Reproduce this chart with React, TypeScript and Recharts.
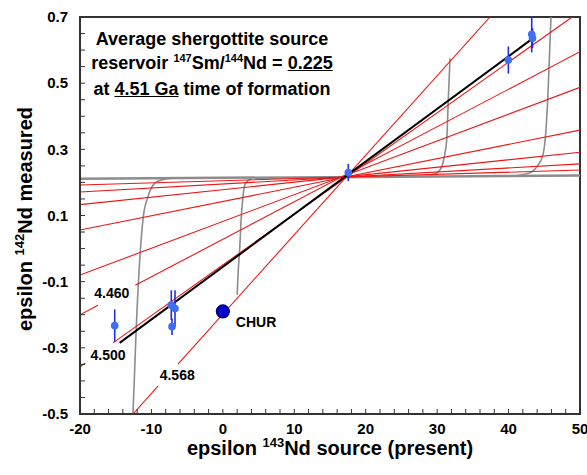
import React from "react";
import {
  ComposedChart,
  Line,
  Scatter,
  XAxis,
  YAxis,
  ErrorBar,
  ReferenceArea,
} from "recharts";

const FONT = '"Liberation Sans", Arial, Helvetica, sans-serif';

// axis ticks
const xTickLabels = [-20, -10, 0, 10, 20, 30, 40, 50];
const yTickLabels = [-0.5, -0.3, -0.1, 0.1, 0.3, 0.5, 0.7];
const xTicks = Array.from({ length: 36 }, (_, i) => -20 + 2 * i);
const yTicks = Array.from({ length: 25 }, (_, i) => Math.round((-0.5 + 0.05 * i) * 100) / 100);

// red isochrons (epsilon143Nd source, epsilon142Nd)
const isoA = [{ x: -20, y: 0.192 }, { x: 50, y: 0.2375 }];
const isoB = [{ x: -20, y: 0.171 }, { x: 50, y: 0.256 }];
const isoC = [{ x: -20, y: 0.133 }, { x: 50, y: 0.291 }];
const isoD = [{ x: -20, y: 0.056 }, { x: 50, y: 0.358 }];
const isoE = [{ x: -20, y: -0.08 }, { x: 50, y: 0.4875 }];
const iso4460a = [{ x: -20, y: -0.2 }, { x: -17.48, y: -0.171 }];
const iso4460b = [{ x: -12.26, y: -0.111 }, { x: 50, y: 0.595 }];
const iso4500a = [{ x: -20, y: -0.358 }, { x: -19.26, y: -0.346 }];
const iso4500b = [{ x: -15.38, y: -0.285 }, { x: 48.9, y: 0.7 }];
const iso4568a = [{ x: -12.58, y: -0.5 }, { x: -9.08, y: -0.416 }];
const iso4568b = [{ x: -6.28, y: -0.349 }, { x: 37.4, y: 0.7 }];

const redLines = [isoA, isoB, isoC, isoD, isoE, iso4460a, iso4460b, iso4500a, iso4500b, iso4568a, iso4568b];

// best fit through shergottites
const fitLine = [{ x: -14.45, y: -0.285 }, { x: 43.24, y: 0.633 }];

// gray evolution curves
const flatLine = [{ x: -20, y: 0.211 }, { x: 50, y: 0.221 }];
const curve1 = [
  { x: -12.58, y: -0.5 },
  { x: -12.12, y: -0.236 },
  { x: -11.64, y: -0.035 },
  { x: -11.14, y: 0.096 },
  { x: -10.48, y: 0.157 },
  { x: -9.54, y: 0.197 },
  { x: -8.14, y: 0.21 },
  { x: -7.26, y: 0.212 },
];
const curve2 = [
  { x: 2.0, y: -0.14 },
  { x: 2.16, y: -0.065 },
  { x: 2.36, y: 0.0 },
  { x: 2.58, y: 0.096 },
  { x: 2.82, y: 0.157 },
  { x: 3.14, y: 0.197 },
  { x: 3.98, y: 0.212 },
];
const curve3 = [
  { x: 29.0, y: 0.222 },
  { x: 29.94, y: 0.229 },
  { x: 30.64, y: 0.247 },
  { x: 31.0, y: 0.278 },
  { x: 31.34, y: 0.328 },
  { x: 31.56, y: 0.449 },
  { x: 31.8, y: 0.575 },
];
const curve4 = [
  { x: 41.14, y: 0.22 },
  { x: 42.06, y: 0.224 },
  { x: 43.24, y: 0.232 },
  { x: 44.16, y: 0.253 },
  { x: 44.86, y: 0.288 },
  { x: 45.2, y: 0.349 },
  { x: 45.48, y: 0.449 },
  { x: 45.94, y: 0.7 },
];
const grayCurves = [curve1, curve2, curve3, curve4];

// shergottite measurements
const samples = [
  { x: -15.14, y: -0.233, err: 0.049 },
  { x: -7.22, y: -0.171, err: 0.045 },
  { x: -6.7, y: -0.181, err: 0.055 },
  { x: -7.12, y: -0.236, err: 0.025 },
  { x: 17.56, y: 0.23, err: 0.026 },
  { x: 39.97, y: 0.57, err: 0.041 },
  { x: 43.24, y: 0.648, err: 0.055 },
  { x: 43.35, y: 0.636, err: 0.03 },
];

const chur = [{ x: 0, y: -0.19, name: "CHUR" }];

const ageLabels = [
  { x: -15.55, y: -0.135, text: "4.460" },
  { x: -16.08, y: -0.321, text: "4.500" },
  { x: -6.39, y: -0.381, text: "4.568" },
];

const fmtX = (v: number) => (xTickLabels.includes(v) ? String(v) : "");
const fmtY = (v: number) => {
  const hit = yTickLabels.find((l) => Math.abs(l - v) < 1e-6);
  return hit === undefined ? "" : hit.toFixed(1);
};

const XTitle = ({ viewBox }: any) => {
  const cx = viewBox.x + viewBox.width / 2;
  const y = viewBox.y + 41;
  return (
    <text x={cx} y={y} textAnchor="middle" fontFamily={FONT} fontWeight="bold" fontSize={20} fill="#000">
      epsilon{" "}
      <tspan fontSize={13} dy={-8}>143</tspan>
      <tspan dy={8}>Nd source (present)</tspan>
    </text>
  );
};

const YTitle = ({ viewBox }: any) => {
  const x = viewBox.x + 32;
  const y = viewBox.y + 202;
  return (
    <text
      x={x}
      y={y}
      textAnchor="middle"
      transform={`rotate(-90 ${x} ${y})`}
      fontFamily={FONT}
      fontWeight="bold"
      fontSize={20}
      fill="#000"
    >
      epsilon{" "}
      <tspan fontSize={13} dy={-8}>142</tspan>
      <tspan dy={8}>Nd measured</tspan>
    </text>
  );
};

const AgeText = (p: any) => (
  <text
    x={p.cx}
    y={p.cy}
    textAnchor="middle"
    dominantBaseline="central"
    fontFamily={FONT}
    fontWeight="bold"
    fontSize={14}
    fill="#000"
  >
    {p.payload.text}
  </text>
);

const ChurDot = (p: any) => (
  <g>
    <circle cx={p.cx} cy={p.cy} r={6.5} fill="#0000cc" stroke="#000066" strokeWidth={1.2} />
    <text
      x={p.cx + 13}
      y={p.cy + 11}
      dominantBaseline="central"
      fontFamily={FONT}
      fontWeight="bold"
      fontSize={14}
      fill="#000"
    >
      {p.payload.name}
    </text>
  </g>
);

const SampleDot = (p: any) => <circle cx={p.cx} cy={p.cy} r={3.8} fill="#3d6ff5" />;

const supStyle: React.CSSProperties = { fontSize: 11, position: "relative", top: -7 };

export default function App() {
  return (
    <div style={{ position: "absolute", left: 0, top: 0, width: 587, height: 475, background: "#fff" }}>
      <ComposedChart width={587} height={475} margin={{ top: 17, right: 7, left: 0, bottom: 0 }}>
        <XAxis
          type="number"
          dataKey="x"
          domain={[-20, 50]}
          allowDataOverflow
          ticks={xTicks}
          interval={0}
          tickFormatter={fmtX}
          height={61}
          tickSize={-5}
          tickMargin={14}
          axisLine={{ stroke: "#333", strokeWidth: 2 }}
          tickLine={{ stroke: "#333", strokeWidth: 1 }}
          tick={{ fill: "#000", fontSize: 15, fontWeight: "bold", fontFamily: FONT }}
          label={<XTitle />}
        />
        <YAxis
          type="number"
          dataKey="y"
          domain={[-0.5, 0.7]}
          allowDataOverflow
          ticks={yTicks}
          interval={0}
          tickFormatter={fmtY}
          width={80}
          tickSize={-5}
          tickMargin={17}
          axisLine={{ stroke: "#333", strokeWidth: 2 }}
          tickLine={{ stroke: "#333", strokeWidth: 1 }}
          tick={{ fill: "#000", fontSize: 15, fontWeight: "bold", fontFamily: FONT }}
          label={<YTitle />}
        />
        <ReferenceArea x1={-20} x2={50} y1={-0.5} y2={0.7} fill="none" stroke="#333" strokeWidth={2} />

        <Line data={flatLine} dataKey="y" type="linear" stroke="#8c8c8c" strokeWidth={2.5} dot={false} activeDot={false} isAnimationActive={false} />
        {grayCurves.map((c, i) => (
          <Line key={`g${i}`} data={c} dataKey="y" type="monotone" stroke="#8c8c8c" strokeWidth={1.6} dot={false} activeDot={false} isAnimationActive={false} />
        ))}
        {redLines.map((l, i) => (
          <Line key={`r${i}`} data={l} dataKey="y" type="linear" stroke="#ee1515" strokeWidth={1.1} dot={false} activeDot={false} isAnimationActive={false} />
        ))}
        <Line data={fitLine} dataKey="y" type="linear" stroke="#000" strokeWidth={2} dot={false} activeDot={false} isAnimationActive={false} />

        <Scatter data={samples} dataKey="y" shape={SampleDot} isAnimationActive={false}>
          <ErrorBar dataKey="err" direction="y" width={0} stroke="#1e2ee0" strokeWidth={1.6} />
        </Scatter>
        <Scatter data={chur} dataKey="y" shape={ChurDot} isAnimationActive={false} />
        <Scatter data={ageLabels} dataKey="y" shape={AgeText} isAnimationActive={false} />
      </ComposedChart>

      <div
        style={{
          position: "absolute",
          left: 62,
          top: 27,
          width: 300,
          textAlign: "center",
          fontFamily: FONT,
          fontWeight: "bold",
          fontSize: 18,
          lineHeight: "24px",
          color: "#000",
        }}
      >
        <div>Average shergottite source</div>
        <div>
          reservoir <span style={supStyle}>147</span>Sm/<span style={supStyle}>144</span>Nd = <u>0.225</u>
        </div>
        <div>
          at <u>4.51 Ga</u> time of formation
        </div>
      </div>
    </div>
  );
}
